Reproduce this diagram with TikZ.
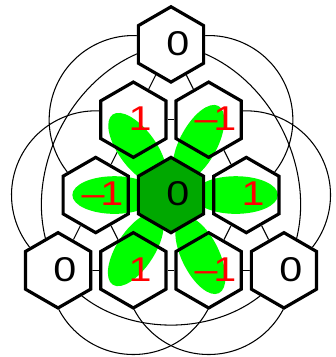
\documentclass[tikz,border=0pt]{standalone}
\usepackage{fontspec}
\setmainfont{Liberation Sans}[FakeStretch=1.2]
\usetikzlibrary{shapes.geometric}
\definecolor{petal}{RGB}{0,255,0}
\definecolor{core}{RGB}{0,168,0}
\pgfdeclarelayer{back}
\pgfdeclarelayer{fills}
\pgfdeclarelayer{petals}
\pgfsetlayers{back,fills,petals,main}
\newcommand{\negsign}{–\kern-0.12em}

\begin{document}
\begin{tikzpicture}[
    hexa/.style={regular polygon, regular polygon sides=6, shape border rotate=30,
      minimum size=1cm, inner sep=0pt, draw, line width=1.2pt},
    link/.style={line width=0.4pt},
    lab/.style={font=\fontsize{13}{15}\selectfont, inner sep=0pt, xshift=0.09cm, yshift=0.015cm}
  ]
  \useasboundingbox (-2.271,-2.151) rectangle (2.178,2.590);
  \foreach \n/\x/\y in {t/0/2, l2/-0.5/1, r2/0.5/1, l3/-1/0, r3/1/0,
      b1/-1.5/-1, b2/-0.5/-1, b3/0.5/-1, b4/1.5/-1}
    \node[hexa] (\n) at (\x,\y) {};
  \node[hexa, fill=core] (c) at (0,0) {};
  \foreach \n/\v in {t/0, c/0, b1/0, b4/0}
    \node[lab] (\n-v) at (\n) {\v};
  \foreach \n/\v in {l2/1, r2/\negsign1, l3/\negsign1, r3/1, b2/1, b3/\negsign1}
    \node[lab, red] (\n-v) at (\n) {\v};

  \begin{pgfonlayer}{fills}
    \foreach \n in {t,l2,r2,l3,r3,b1,b2,b3,b4}
      \fill[white] (\n.corner 1) -- (\n.corner 2) -- (\n.corner 3) -- (\n.corner 4)
        -- (\n.corner 5) -- (\n.corner 6) -- cycle;
  \end{pgfonlayer}

  \begin{pgfonlayer}{back}
    \foreach \a/\b in {t/l2, t/r2, l2/r2, l2/l3, r2/r3, l3/b1, l3/b2, r3/b3, r3/b4,
        b1/b2, b2/b3, b3/b4}
      \draw[link] (\a) -- (\b);
    \foreach \n/\s in {l2/63.43, l3/63.43, r2/-63.43, r3/-63.43, b2/180, b3/180}
      \draw[link] (\n.center) ++(\s:1.118) arc[start angle=\s, delta angle=180, radius=1.118];
    \draw[link] (t.center) to[bend right=56] (b1.center);
    \draw[link] (t.center) to[bend left=56] (b4.center);
    \draw[link] (b1.center) to[bend right=56] (b4.center);
  \end{pgfonlayer}

  \begin{pgfonlayer}{petals}
    \foreach \a/\d in {0/0.86, 62/0.78, 126/0.76, 180/0.75, 237/0.86, 296/0.89}
      \fill[petal, shift={(c)}, rotate=\a] (\d,0) ellipse[x radius=0.56, y radius=0.25];
  \end{pgfonlayer}
\end{tikzpicture}
\end{document}
